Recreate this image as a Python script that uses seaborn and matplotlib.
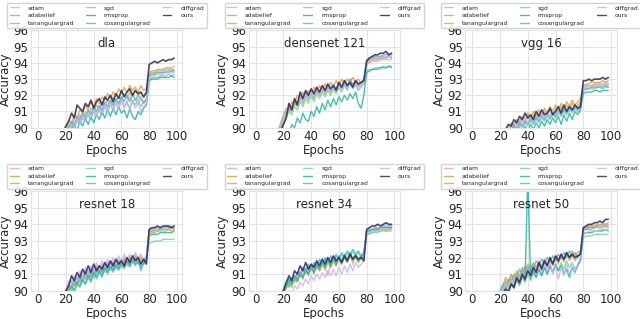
import pandas as pd
import matplotlib
matplotlib.use("Agg")
import matplotlib.pyplot as plt
import seaborn as sns

# epochs sampled every 2 epochs (earlier epochs sit below the 90% floor)
epochs = list(range(16, 100, 2))

optimizers = ["adam", "adabelief", "tanangulargrad", "sgd", "rmsprop",
              "cosangulargrad", "diffgrad", "ours"]
colors = ["#f7a1b4", "#e69f3c", "#b5b85a", "#80d0a0", "#2ab3a0",
          "#55b4dd", "#c4b5f5", "#2e2a55"]

# ---- dla ----
dla_adam = [88.9, 89.3, 89.6, 89.9, 90.3, 90.1, 90.6, 90.4, 90.9, 90.7, 91.1, 90.8, 91.2, 90.9, 91.3, 91.0,
            91.5, 91.2, 91.6, 91.3, 91.7, 91.4, 91.8, 91.2, 91.6, 91.9, 91.5, 91.8, 91.4, 91.9, 91.6, 91.8,
            93.2, 93.3, 93.3, 93.4, 93.4, 93.4, 93.5, 93.4, 93.5, 93.5]
dla_adabelief = [89.2, 89.6, 89.9, 90.5, 90.2, 90.8, 90.6, 91.1, 90.9, 91.4, 91.1, 91.6, 91.3, 91.8, 91.5, 91.9,
                 91.7, 92.1, 91.8, 92.2, 92.0, 92.4, 92.1, 92.5, 92.2, 92.6, 92.3, 92.5, 92.2, 92.6, 92.3, 92.4,
                 93.4, 93.5, 93.5, 93.6, 93.6, 93.6, 93.7, 93.7, 93.7, 93.8]
dla_tanangulargrad = [89.0, 89.4, 89.8, 90.2, 90.0, 90.5, 90.3, 90.8, 90.6, 91.0, 90.7, 91.2, 91.0, 91.4, 91.1, 91.6,
                      91.3, 91.7, 91.4, 91.9, 91.6, 92.0, 91.7, 92.1, 91.8, 92.2, 91.9, 92.3, 92.0, 92.2, 91.9, 92.1,
                      93.3, 93.4, 93.4, 93.5, 93.5, 93.5, 93.6, 93.6, 93.6, 93.6]
dla_sgd = [88.7, 89.0, 89.4, 89.8, 90.1, 89.9, 90.4, 90.2, 90.6, 90.4, 90.8, 90.5, 91.0, 90.7, 91.1, 90.8,
           91.3, 91.0, 91.4, 91.1, 91.5, 91.2, 91.7, 91.3, 91.6, 91.2, 91.7, 91.4, 91.8, 91.3, 91.6, 91.7,
           93.0, 93.1, 93.1, 93.1, 93.2, 93.2, 93.2, 93.3, 93.2, 93.3]
dla_rmsprop = [88.5, 88.9, 89.2, 89.6, 89.9, 90.2, 89.8, 90.4, 90.1, 90.6, 90.2, 90.7, 90.3, 90.8, 90.5, 91.0,
               90.6, 91.1, 90.7, 91.2, 90.8, 91.3, 90.9, 91.1, 90.6, 91.2, 90.7, 90.5, 91.0, 90.8, 91.2, 91.4,
               92.9, 93.0, 93.0, 93.0, 93.1, 93.1, 93.1, 93.1, 93.2, 93.1]
dla_cosangulargrad = [88.8, 89.2, 89.5, 90.0, 90.4, 90.1, 90.7, 90.5, 90.9, 90.6, 91.1, 90.8, 91.3, 91.0, 91.4, 91.1,
                      91.6, 91.3, 91.7, 91.4, 91.8, 91.5, 91.9, 91.6, 92.0, 91.6, 92.1, 91.7, 92.0, 91.8, 91.5, 91.7,
                      93.2, 93.3, 93.3, 93.4, 93.4, 93.4, 93.4, 93.5, 93.5, 93.5]
dla_diffgrad = [88.6, 89.1, 89.4, 89.8, 90.2, 90.0, 90.5, 90.2, 90.7, 90.4, 90.9, 90.6, 91.1, 90.7, 91.2, 90.9,
                91.4, 91.0, 91.5, 91.1, 91.6, 91.2, 91.7, 91.3, 91.5, 91.1, 91.6, 91.2, 91.5, 91.0, 91.3, 91.5,
                93.1, 93.2, 93.2, 93.3, 93.3, 93.3, 93.4, 93.4, 93.4, 93.4]
dla_ours = [89.6, 89.8, 90.1, 90.4, 90.9, 90.6, 91.4, 91.2, 91.0, 91.5, 91.3, 91.7, 91.2, 91.6, 91.8, 91.4,
            91.9, 91.7, 92.0, 91.6, 92.1, 91.8, 92.3, 91.9, 92.2, 92.4, 92.0, 92.3, 92.1, 92.2, 91.9, 92.2,
            93.9, 94.0, 94.1, 94.0, 94.1, 94.2, 94.1, 94.2, 94.2, 94.3]

# ---- densenet 121 ----
dn_adam = [89.6, 90.0, 90.5, 90.9, 91.3, 91.0, 91.6, 91.4, 91.9, 91.6, 92.1, 91.8, 92.2, 91.9, 92.3, 92.0,
           92.4, 92.1, 92.5, 92.2, 92.6, 92.3, 92.7, 92.4, 92.8, 92.5, 92.9, 92.6, 92.8, 92.5, 92.7, 92.9,
           93.9, 94.0, 94.1, 94.1, 94.1, 94.2, 94.2, 94.2, 94.2, 94.2]
dn_adabelief = [89.8, 90.3, 90.8, 91.2, 91.0, 91.6, 91.4, 92.0, 91.7, 92.2, 91.9, 92.3, 92.0, 92.5, 92.2, 92.6,
                92.3, 92.7, 92.4, 92.8, 92.5, 92.9, 92.6, 93.0, 92.7, 93.0, 92.8, 93.1, 92.8, 93.0, 92.7, 92.9,
                94.1, 94.2, 94.2, 94.3, 94.3, 94.3, 94.4, 94.3, 94.4, 94.3]
dn_tanangulargrad = [89.5, 90.0, 90.4, 90.8, 91.2, 91.0, 91.5, 91.3, 91.8, 91.5, 92.0, 91.7, 92.1, 91.8, 92.3, 92.0,
                     92.4, 92.1, 92.5, 92.2, 92.6, 92.3, 92.7, 92.4, 92.8, 92.5, 92.9, 92.6, 92.8, 92.6, 92.8, 92.9,
                     94.0, 94.1, 94.2, 94.2, 94.2, 94.3, 94.3, 94.3, 94.4, 94.3]
dn_sgd = [89.3, 89.8, 90.2, 90.6, 91.0, 90.8, 91.3, 91.1, 91.6, 91.3, 91.8, 91.5, 92.0, 91.6, 92.1, 91.8,
          92.2, 91.9, 92.3, 92.0, 92.4, 92.1, 92.5, 92.2, 92.6, 92.3, 92.7, 92.4, 92.6, 92.3, 92.5, 92.7,
          93.5, 93.6, 93.6, 93.7, 93.7, 93.7, 93.8, 93.7, 93.8, 93.8]
dn_rmsprop = [88.8, 89.3, 89.7, 89.9, 89.6, 90.2, 90.0, 90.6, 90.3, 90.9, 90.5, 90.4, 91.0, 90.7, 91.3, 90.9,
              91.5, 91.1, 91.7, 91.3, 91.8, 91.4, 91.9, 91.6, 92.0, 91.7, 92.1, 91.8, 92.2, 91.5, 91.2, 92.0,
              93.4, 93.5, 93.6, 93.6, 93.6, 93.7, 93.7, 93.7, 93.8, 93.7]
dn_cosangulargrad = [89.7, 90.1, 90.6, 91.0, 91.4, 91.1, 91.7, 91.5, 92.0, 91.7, 92.2, 91.9, 92.3, 92.0, 92.4, 92.1,
                     92.5, 92.2, 92.6, 92.3, 92.7, 92.4, 92.8, 92.5, 92.9, 92.6, 93.0, 92.7, 92.9, 92.6, 92.8, 93.0,
                     94.2, 94.3, 94.3, 94.4, 94.4, 94.4, 94.5, 94.5, 94.5, 94.5]
dn_diffgrad = [89.6, 90.1, 90.5, 91.0, 91.5, 91.2, 91.7, 91.4, 91.9, 91.6, 92.1, 91.8, 92.2, 91.9, 92.4, 92.0,
               92.5, 92.2, 92.6, 92.3, 92.7, 92.3, 92.8, 92.4, 92.7, 92.4, 92.8, 92.5, 92.7, 92.4, 92.6, 92.8,
               94.0, 94.1, 94.2, 94.2, 94.3, 94.3, 94.3, 94.4, 94.4, 94.4]
dn_ours = [89.4, 89.8, 90.2, 90.6, 91.5, 91.1, 91.8, 91.4, 92.2, 91.8, 92.3, 92.0, 92.4, 92.1, 92.5, 92.2,
           92.6, 92.3, 92.7, 92.4, 92.6, 92.3, 92.8, 92.5, 92.9, 92.6, 92.8, 92.5, 92.9, 92.7, 92.8, 92.9,
           94.1, 94.3, 94.4, 94.5, 94.5, 94.6, 94.6, 94.7, 94.5, 94.6]

# ---- vgg 16 ----
vgg_adam = [88.6, 88.9, 89.2, 89.4, 89.6, 89.8, 90.0, 90.2, 90.0, 90.4, 90.2, 90.5, 90.3, 90.6, 90.4, 90.7,
            90.5, 90.8, 90.6, 90.9, 90.7, 91.0, 90.8, 91.1, 90.9, 91.2, 91.0, 91.3, 91.1, 91.4, 91.2, 91.5,
            92.4, 92.5, 92.5, 92.5, 92.6, 92.6, 92.6, 92.6, 92.6, 92.7]
vgg_adabelief = [88.8, 89.1, 89.4, 89.6, 89.8, 90.1, 90.3, 90.1, 90.5, 90.3, 90.7, 90.5, 90.9, 90.6, 91.0, 90.7,
                 91.1, 90.8, 91.2, 90.9, 91.3, 91.0, 91.4, 91.1, 91.5, 91.2, 91.6, 91.3, 91.7, 91.4, 91.6, 91.8,
                 92.6, 92.7, 92.7, 92.8, 92.8, 92.8, 92.8, 92.9, 92.8, 92.9]
vgg_tanangulargrad = [88.7, 89.0, 89.3, 89.5, 89.7, 89.9, 90.1, 90.0, 90.3, 90.1, 90.5, 90.3, 90.7, 90.4, 90.8, 90.5,
                      90.9, 90.6, 91.0, 90.7, 91.1, 90.8, 91.2, 90.9, 91.3, 91.0, 91.4, 91.1, 91.5, 91.2, 91.4, 91.6,
                      92.5, 92.6, 92.6, 92.6, 92.7, 92.7, 92.7, 92.7, 92.8, 92.7]
vgg_sgd = [88.4, 88.7, 89.0, 89.2, 89.4, 89.6, 89.8, 90.0, 89.8, 90.2, 90.0, 90.3, 90.1, 90.4, 90.2, 90.5,
           90.3, 90.6, 90.4, 90.7, 90.5, 90.8, 90.6, 90.9, 90.7, 91.0, 90.8, 91.1, 90.9, 91.2, 91.0, 91.3,
           92.3, 92.4, 92.4, 92.4, 92.4, 92.5, 92.5, 92.4, 92.5, 92.5]
vgg_rmsprop = [88.2, 88.5, 88.8, 89.0, 89.2, 89.4, 89.6, 89.8, 89.6, 90.0, 89.7, 90.1, 89.8, 90.2, 89.9, 90.3,
               90.0, 90.4, 90.1, 90.5, 90.2, 90.6, 90.3, 90.7, 90.2, 90.8, 90.4, 90.9, 90.5, 91.0, 90.8, 91.1,
               92.1, 92.2, 92.2, 92.2, 92.3, 92.3, 92.2, 92.3, 92.3, 92.3]
vgg_cosangulargrad = [88.5, 88.8, 89.1, 89.3, 89.5, 89.7, 89.9, 90.1, 89.9, 90.3, 90.1, 90.4, 90.2, 90.6, 90.3, 90.7,
                      90.4, 90.8, 90.5, 90.9, 90.6, 91.0, 90.7, 91.1, 90.8, 91.2, 90.9, 91.3, 91.0, 91.2, 91.1, 91.4,
                      92.3, 92.4, 92.4, 92.5, 92.5, 92.5, 92.5, 92.5, 92.6, 92.5]
vgg_diffgrad = [88.6, 88.9, 89.2, 89.5, 89.7, 89.9, 90.1, 90.3, 90.1, 90.5, 90.2, 90.6, 90.3, 90.7, 90.4, 90.8,
                90.5, 90.9, 90.6, 91.0, 90.7, 91.1, 90.8, 91.2, 90.9, 91.3, 91.0, 91.4, 91.1, 91.3, 91.2, 91.5,
                92.5, 92.5, 92.6, 92.6, 92.6, 92.6, 92.7, 92.6, 92.7, 92.6]
vgg_ours = [88.8, 89.1, 89.4, 89.7, 89.9, 90.2, 90.1, 90.5, 90.3, 90.7, 90.5, 90.9, 90.6, 90.8, 90.5, 91.0,
            90.7, 91.1, 90.8, 90.9, 91.2, 90.8, 91.0, 91.3, 90.9, 91.4, 91.0, 91.3, 91.1, 91.4, 91.2, 91.3,
            92.9, 92.9, 93.0, 92.9, 93.0, 93.0, 93.0, 93.1, 93.0, 93.1]

# ---- resnet 18 ----
r18_adam = [89.2, 89.6, 90.0, 90.4, 90.2, 90.7, 90.5, 91.0, 90.8, 91.2, 90.9, 91.3, 91.1, 91.5, 91.2, 91.6,
            91.3, 91.7, 91.4, 91.8, 91.5, 91.9, 91.6, 92.0, 91.7, 92.1, 91.8, 92.2, 91.9, 92.1, 91.8, 92.0,
            93.7, 93.7, 93.8, 93.8, 93.8, 93.8, 93.9, 93.8, 93.9, 93.8]
r18_adabelief = [89.1, 89.5, 89.9, 90.3, 90.1, 90.6, 90.4, 90.9, 90.6, 91.1, 90.8, 91.2, 90.9, 91.4, 91.1, 91.5,
                 91.2, 91.6, 91.3, 91.7, 91.4, 91.8, 91.5, 91.9, 91.6, 92.0, 91.7, 92.1, 91.8, 92.0, 91.7, 92.1,
                 93.5, 93.6, 93.6, 93.6, 93.7, 93.7, 93.7, 93.7, 93.8, 93.7]
r18_tanangulargrad = [89.0, 89.4, 89.8, 90.2, 90.0, 90.5, 90.3, 90.8, 90.5, 91.0, 90.7, 91.1, 90.8, 91.3, 91.0, 91.4,
                      91.1, 91.5, 91.2, 91.6, 91.3, 91.7, 91.4, 91.8, 91.5, 91.9, 91.6, 92.0, 91.7, 91.9, 91.6, 92.0,
                      93.4, 93.5, 93.5, 93.6, 93.6, 93.6, 93.6, 93.7, 93.6, 93.7]
r18_sgd = [88.8, 89.2, 89.6, 89.9, 90.1, 89.9, 90.4, 90.2, 90.6, 90.4, 90.8, 90.5, 91.0, 90.7, 91.1, 90.8,
           91.3, 91.0, 91.4, 91.1, 91.5, 91.2, 91.6, 91.3, 91.7, 91.4, 91.8, 91.5, 91.9, 91.6, 91.8, 92.0,
           92.9, 92.9, 93.0, 93.0, 93.0, 93.1, 93.1, 93.1, 93.1, 93.1]
r18_rmsprop = [88.9, 89.3, 89.7, 90.0, 90.3, 90.0, 90.5, 90.3, 90.7, 90.4, 90.9, 90.6, 91.1, 90.8, 91.2, 90.9,
               91.4, 91.1, 91.5, 91.2, 91.6, 91.3, 91.7, 91.4, 91.8, 91.5, 91.9, 91.6, 91.7, 91.4, 91.6, 91.9,
               93.3, 93.4, 93.4, 93.4, 93.5, 93.5, 93.5, 93.5, 93.5, 93.6]
r18_cosangulargrad = [89.1, 89.5, 89.9, 90.3, 90.6, 90.3, 90.8, 90.5, 91.0, 90.7, 91.2, 90.8, 91.3, 91.0, 91.5, 91.1,
                      91.6, 91.2, 91.7, 91.3, 91.8, 91.4, 91.9, 91.5, 91.9, 91.6, 92.0, 91.6, 91.9, 91.2, 91.7, 92.0,
                      93.6, 93.6, 93.7, 93.7, 93.7, 93.8, 93.8, 93.8, 93.8, 93.8]
r18_diffgrad = [89.3, 89.7, 90.1, 90.6, 90.4, 90.9, 90.6, 91.2, 90.9, 91.4, 91.0, 91.5, 91.2, 91.7, 91.3, 91.8,
                91.4, 91.9, 91.5, 92.0, 91.6, 92.1, 91.7, 92.2, 91.8, 92.2, 91.9, 92.3, 92.0, 92.2, 91.9, 92.1,
                93.6, 93.7, 93.7, 93.7, 93.8, 93.8, 93.8, 93.9, 93.8, 93.9]
r18_ours = [89.4, 89.7, 90.0, 90.3, 90.9, 90.6, 91.1, 90.8, 91.3, 91.0, 91.5, 91.1, 91.6, 91.2, 91.5, 91.3,
            91.7, 91.4, 91.8, 91.5, 91.9, 91.6, 91.8, 91.5, 92.0, 91.7, 92.1, 91.8, 92.0, 91.6, 91.9, 91.6,
            93.7, 93.8, 93.8, 93.9, 93.8, 93.9, 93.9, 93.9, 93.8, 93.9]

# ---- resnet 34 ----
r34_adam = [89.3, 89.6, 89.9, 90.3, 90.7, 90.4, 90.9, 90.7, 91.2, 90.9, 91.4, 91.1, 91.6, 91.2, 91.7, 91.3,
            91.8, 91.4, 90.9, 91.6, 92.0, 91.7, 92.1, 91.8, 92.2, 91.9, 92.3, 91.6, 92.2, 91.9, 92.1, 92.0,
            93.5, 93.6, 93.7, 93.7, 93.7, 93.8, 93.8, 93.8, 93.8, 93.8]
r34_adabelief = [89.0, 89.4, 89.8, 90.1, 90.5, 90.2, 90.8, 90.5, 91.0, 90.7, 91.2, 90.9, 91.4, 91.0, 91.5, 91.2,
                 91.6, 91.3, 91.7, 91.4, 91.8, 91.5, 91.9, 91.6, 92.0, 91.7, 92.1, 91.8, 92.0, 91.7, 91.9, 92.1,
                 93.4, 93.5, 93.5, 93.6, 93.6, 93.6, 93.7, 93.6, 93.7, 93.7]
r34_tanangulargrad = [89.1, 89.5, 89.9, 90.2, 90.6, 90.3, 90.9, 90.6, 91.1, 90.8, 91.3, 91.0, 91.5, 91.1, 91.6, 91.2,
                      91.7, 91.3, 91.8, 91.4, 91.9, 91.5, 92.0, 91.6, 92.1, 91.7, 92.2, 91.8, 92.1, 91.8, 92.0, 92.2,
                      93.5, 93.5, 93.6, 93.6, 93.7, 93.7, 93.7, 93.7, 93.7, 93.8]
r34_sgd = [89.2, 89.6, 90.0, 90.4, 90.2, 90.7, 90.5, 91.0, 90.8, 91.3, 91.0, 91.5, 91.2, 91.6, 91.3, 91.8,
           91.5, 91.9, 91.6, 92.0, 91.7, 92.1, 91.8, 92.2, 91.9, 92.3, 92.0, 92.4, 92.1, 92.3, 92.0, 92.2,
           93.4, 93.4, 93.5, 93.5, 93.5, 93.6, 93.6, 93.6, 93.6, 93.6]
r34_rmsprop = [89.1, 89.5, 89.9, 90.3, 90.7, 90.4, 90.9, 90.6, 91.1, 90.8, 91.3, 91.0, 91.5, 91.1, 91.6, 91.3,
               91.8, 91.4, 91.9, 91.5, 92.0, 91.6, 92.1, 91.7, 92.2, 91.8, 92.3, 91.9, 92.2, 91.8, 92.1, 92.3,
               93.6, 93.6, 93.7, 93.7, 93.7, 93.8, 93.8, 93.8, 93.8, 93.8]
r34_cosangulargrad = [89.3, 89.7, 90.1, 90.5, 90.3, 90.8, 90.6, 91.1, 90.9, 91.4, 91.1, 91.6, 91.3, 91.7, 91.4, 91.9,
                      91.6, 92.0, 91.7, 92.1, 91.8, 92.2, 91.9, 92.3, 92.0, 92.4, 92.1, 92.5, 92.2, 92.4, 92.1, 92.3,
                      93.6, 93.7, 93.7, 93.8, 93.8, 93.8, 93.9, 93.9, 93.9, 93.9]
r34_diffgrad = [88.7, 89.0, 89.4, 89.7, 90.0, 89.8, 90.3, 90.1, 90.5, 90.3, 90.7, 90.4, 90.9, 90.6, 91.0, 90.7,
                91.1, 90.8, 91.2, 90.9, 91.3, 90.9, 91.4, 91.0, 91.5, 91.1, 91.6, 91.2, 91.7, 91.4, 91.6, 91.8,
                93.5, 93.5, 93.6, 93.6, 93.6, 93.7, 93.7, 93.7, 93.7, 93.7]
r34_ours = [89.4, 89.7, 90.0, 90.5, 90.9, 90.6, 91.2, 91.0, 91.5, 91.2, 91.7, 91.3, 91.6, 91.4, 91.8, 91.5,
            91.9, 91.6, 92.0, 91.7, 92.1, 91.8, 92.0, 91.7, 92.1, 91.8, 92.2, 91.9, 92.1, 91.9, 92.0, 91.8,
            93.7, 93.8, 93.9, 93.9, 94.0, 93.9, 94.0, 94.1, 94.0, 94.0]

# ---- resnet 50 ----
r50_adam = [88.9, 89.3, 89.7, 90.1, 90.5, 90.2, 90.7, 90.5, 91.0, 90.7, 91.2, 90.9, 91.4, 91.0, 91.5, 91.2,
            91.6, 91.3, 91.8, 91.4, 91.9, 91.5, 92.0, 91.6, 92.1, 91.7, 92.2, 91.8, 92.1, 91.8, 92.0, 92.2,
            93.7, 93.8, 93.8, 93.9, 93.9, 93.9, 94.0, 94.0, 94.0, 94.0]
r50_adabelief = [89.1, 89.5, 89.9, 90.3, 90.8, 90.5, 91.0, 90.7, 91.2, 90.9, 91.4, 91.1, 91.6, 91.2, 91.7, 91.4,
                 91.8, 91.5, 91.9, 91.6, 92.0, 91.7, 92.1, 91.8, 92.2, 91.9, 92.3, 92.0, 92.4, 92.1, 92.3, 92.4,
                 93.8, 93.8, 93.9, 93.9, 93.9, 94.0, 94.0, 94.0, 94.0, 94.1]
r50_tanangulargrad = [89.0, 89.4, 89.8, 90.2, 90.6, 90.3, 90.9, 90.6, 91.1, 90.8, 91.3, 91.0, 91.5, 91.1, 91.6, 91.3,
                      91.7, 91.4, 91.8, 91.5, 91.9, 91.6, 92.0, 91.7, 92.1, 91.8, 92.2, 91.9, 92.2, 91.9, 92.1, 92.3,
                      93.6, 93.7, 93.7, 93.7, 93.8, 93.8, 93.8, 93.8, 93.9, 93.8]
r50_sgd = [88.6, 89.0, 89.4, 89.8, 90.1, 89.9, 90.4, 90.1, 90.6, 90.3, 90.8, 90.5, 91.0, 90.6, 91.1, 90.8,
           91.3, 90.9, 91.4, 91.0, 91.5, 91.1, 91.6, 91.2, 91.7, 91.3, 91.8, 91.4, 91.7, 91.3, 91.6, 91.9,
           93.2, 93.3, 93.3, 93.3, 93.4, 93.4, 93.4, 93.4, 93.4, 93.4]
r50_rmsprop = [88.7, 89.1, 89.5, 89.9, 90.3, 90.0, 90.5, 90.3, 90.7, 90.4, 90.9, 90.6, 97.0, 90.7, 91.2, 90.8,
               91.3, 90.9, 91.4, 91.0, 91.5, 91.1, 91.6, 91.2, 91.5, 91.0, 91.3, 90.8, 91.4, 91.1, 91.5, 91.8,
               93.4, 93.5, 93.5, 93.5, 93.6, 93.6, 93.6, 93.6, 93.7, 93.6]
r50_cosangulargrad = [89.2, 89.6, 90.0, 90.4, 90.2, 90.7, 90.5, 91.0, 90.8, 91.3, 91.0, 91.5, 91.2, 91.6, 91.3, 91.8,
                      91.5, 91.9, 91.6, 92.0, 91.7, 92.1, 91.8, 92.2, 91.9, 92.3, 92.0, 92.4, 92.1, 92.3, 92.0, 92.3,
                      93.7, 93.7, 93.8, 93.8, 93.8, 93.9, 93.9, 93.9, 93.9, 93.9]
r50_diffgrad = [88.8, 89.2, 89.6, 90.0, 90.4, 90.1, 90.6, 90.4, 90.9, 90.5, 91.1, 90.7, 91.3, 90.8, 91.4, 91.0,
                91.5, 91.1, 91.6, 91.2, 91.7, 91.0, 91.5, 90.7, 91.4, 90.9, 91.6, 91.0, 91.5, 91.2, 91.6, 92.0,
                93.5, 93.5, 93.6, 93.6, 93.6, 93.6, 93.7, 93.7, 93.7, 93.7]
r50_ours = [88.9, 89.2, 89.5, 89.8, 90.1, 89.9, 90.4, 90.2, 90.8, 90.5, 91.0, 90.7, 91.2, 90.9, 91.4, 91.1,
            91.7, 91.3, 91.8, 91.5, 92.0, 91.6, 92.1, 91.8, 92.2, 91.9, 92.3, 92.0, 92.2, 92.0, 92.1, 92.2,
            93.8, 93.9, 94.0, 94.0, 94.1, 94.1, 94.2, 94.1, 94.3, 94.3]

panels = [
    ("dla", [dla_adam, dla_adabelief, dla_tanangulargrad, dla_sgd, dla_rmsprop,
             dla_cosangulargrad, dla_diffgrad, dla_ours]),
    ("densenet 121", [dn_adam, dn_adabelief, dn_tanangulargrad, dn_sgd, dn_rmsprop,
                      dn_cosangulargrad, dn_diffgrad, dn_ours]),
    ("vgg 16", [vgg_adam, vgg_adabelief, vgg_tanangulargrad, vgg_sgd, vgg_rmsprop,
                vgg_cosangulargrad, vgg_diffgrad, vgg_ours]),
    ("resnet 18", [r18_adam, r18_adabelief, r18_tanangulargrad, r18_sgd, r18_rmsprop,
                   r18_cosangulargrad, r18_diffgrad, r18_ours]),
    ("resnet 34", [r34_adam, r34_adabelief, r34_tanangulargrad, r34_sgd, r34_rmsprop,
                   r34_cosangulargrad, r34_diffgrad, r34_ours]),
    ("resnet 50", [r50_adam, r50_adabelief, r50_tanangulargrad, r50_sgd, r50_rmsprop,
                   r50_cosangulargrad, r50_diffgrad, r50_ours]),
]


def make_frame(series):
    parts = [pd.DataFrame({"Epochs": epochs, "Accuracy": vals, "optimizer": name})
             for name, vals in zip(optimizers, series)]
    return pd.concat(parts, ignore_index=True)


sns.set_theme(style="whitegrid", rc={"grid.linewidth": 0.8, "grid.color": "#e3e3e3",
                                     "axes.edgecolor": "#e3e3e3", "axes.linewidth": 0.8})
plt.rcParams["font.family"] = ["DejaVu Sans"]

fig = plt.figure(figsize=(6.4, 3.19), dpi=100)

lefts = [0.049, 0.3888, 0.7273]
bottoms = [0.5997, 0.0887]
heights = [0.3047, 0.312]
width = 0.236

for i, (title, series) in enumerate(panels):
    row, col = divmod(i, 3)
    ax = fig.add_axes([lefts[col], bottoms[row], width, heights[row]])
    df = make_frame(series)
    sns.lineplot(data=df, x="Epochs", y="Accuracy", hue="optimizer",
                 hue_order=optimizers, palette=colors, linewidth=1.0,
                 alpha=0.85, ax=ax)
    ax.lines[len(optimizers) - 1].set_linewidth(1.2)
    ax.set_xlim(-4.95, 103.95)
    ax.set_ylim(90, 96)
    ax.set_xticks([0, 20, 40, 60, 80, 100])
    ax.set_yticks([90, 91, 92, 93, 94, 95, 96])
    ax.tick_params(labelsize=8.5, length=0, pad=2, labelcolor="#262626")
    ax.set_xlabel("Epochs", fontsize=8.5, labelpad=0.3)
    ax.set_ylabel("Accuracy", fontsize=8.5, labelpad=1.5)
    ax.text(0.5, 0.87, title, transform=ax.transAxes, ha="center",
            va="center", fontsize=8.5, color="#262626")
    ax.legend(loc="lower center", bbox_to_anchor=(0.5, 1.0), ncol=3,
              fontsize=4.3, handlelength=1.5, handletextpad=1.5,
              columnspacing=2.0, labelspacing=0.4, framealpha=0.85,
              borderaxespad=0.4)

fig.savefig("out.png", dpi=100)
